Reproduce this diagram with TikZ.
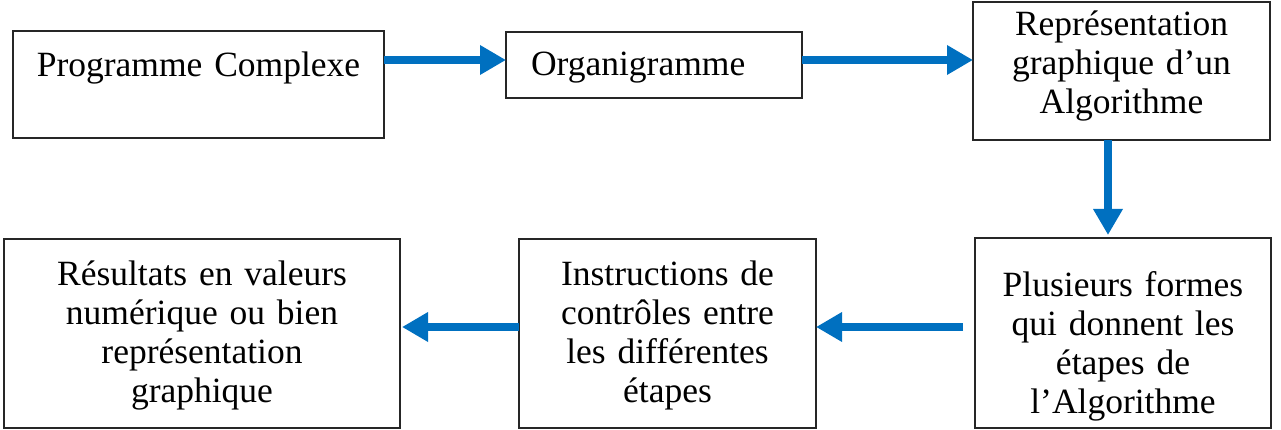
\documentclass[tikz,border=0pt]{standalone}
\usepackage{fontspec}
\setmainfont{Liberation Serif}
\usetikzlibrary{arrows.meta,calc}
\definecolor{wordblue}{RGB}{0,112,192}
\begin{document}
\begin{tikzpicture}[x=1pt,y=-1pt,
  box/.style={draw=black!85, line width=1.8pt, inner sep=0pt, outer sep=0pt,
    align=center, anchor=north west, font=\fontsize{35.5}{39}\selectfont},
  arr/.style={draw=wordblue, line width=8pt, -{Triangle[length=26pt,width=28pt]}}]
\useasboundingbox (0,0) rectangle (1281,430);
\node[box, text width=371pt, text height=46pt, text depth=61pt] (b1) at (13,31) {Programme Complexe};
\node[box, align=left, inner xsep=25pt, text width=246pt, text height=44pt, text depth=22pt] (b2) at (506,32) {Organigramme};
\node[box, text width=297pt, text height=34pt, text depth=104pt] (b3) at (973,2) {Représentation\\graphique d’un\\Algorithme};
\node[box, text width=296pt, text height=58pt, text depth=132pt] (b4) at (975,238) {Plusieurs formes\\qui donnent les\\étapes de\\l’Algorithme};
\node[box, text width=297pt, text height=46pt, text depth=143pt] (b5) at (519,239) {Instructions de\\contrôles entre\\les différentes\\étapes};
\node[box, text width=396pt, text height=46pt, text depth=143pt] (b6) at (4,239) {Résultats en valeurs\\numérique ou bien\\représentation\\graphique};
\coordinate (ytop) at (0,60);
\coordinate (ybot) at (0,327);
\coordinate (xv) at (1108,0);
\draw[arr] (b1.east |- ytop) -- (b2.west |- ytop);
\draw[arr] (b2.east |- ytop) -- (b3.west |- ytop);
\draw[arr] (b3.south -| xv) -- ([yshift=3pt]b4.north -| xv);
\draw[arr] ([xshift=-12pt]b4.west |- ybot) -- (b5.east |- ybot);
\draw[arr] (b5.west |- ybot) -- ([xshift=2pt]b6.east |- ybot);
\end{tikzpicture}
\end{document}
